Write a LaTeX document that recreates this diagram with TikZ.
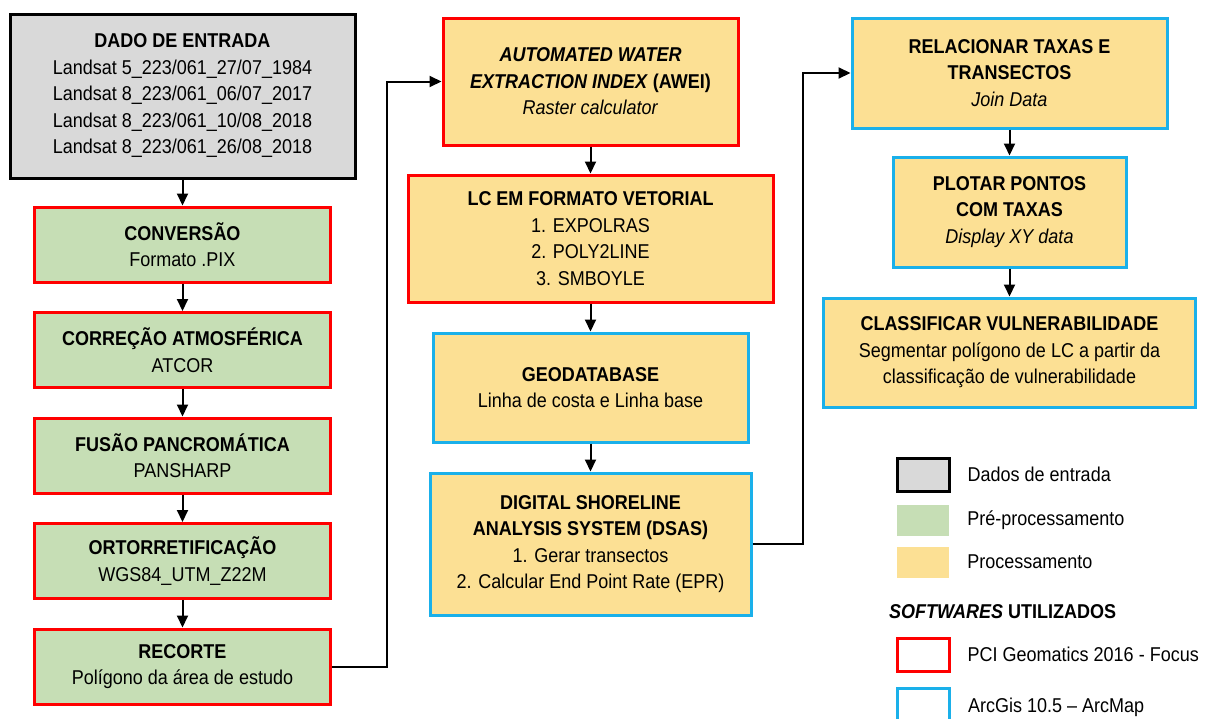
\documentclass[tikz,border=0pt]{standalone}
\usepackage{fontspec}
\setmainfont[FakeStretch=0.9]{Liberation Sans}
\usetikzlibrary{arrows.meta,positioning}
\definecolor{cinza}{HTML}{D9D9D9}
\definecolor{verde}{HTML}{C6DEB5}
\definecolor{amarelo}{HTML}{FCE094}
\definecolor{vermelho}{HTML}{FF0000}
\definecolor{azul}{HTML}{1AB0EA}
\begin{document}
\begin{tikzpicture}[
  x=1pt, y=-1pt,
  box/.style={rectangle, draw, line width=3pt, align=center, inner sep=2pt, font=\fontsize{20}{26.5}\selectfont},
  entrada/.style={box, fill=cinza, draw=black, minimum width=345pt, minimum height=164pt},
  pre/.style={box, fill=verde, draw=vermelho, minimum width=296pt, minimum height=75pt},
  pci/.style={box, fill=amarelo, draw=vermelho},
  arc/.style={box, fill=amarelo, draw=azul},
  amostra/.style={rectangle, minimum width=52pt, minimum height=31pt, inner sep=0pt},
  legtxt/.style={font=\fontsize{20}{22}\selectfont, inner sep=0pt},
  seta/.style={-{Triangle[length=12pt,width=11pt]}, line width=2pt},
  node distance=105.5pt
]
\useasboundingbox (0,0) rectangle (1208,718);

% coluna 1: dados e pre-processamento
\node[entrada] (dado) at (182.5,96) {\textbf{DADO DE ENTRADA}\\Landsat 5\_223/061\_27/07\_1984\\Landsat 8\_223/061\_06/07\_2017\\Landsat 8\_223/061\_10/08\_2018\\Landsat 8\_223/061\_26/08\_2018};
\node[pre, below of=dado, node distance=148.5pt] (conv) {\textbf{CONVERSÃO}\\Formato .PIX};
\node[pre, below of=conv] (corr) {\textbf{CORREÇÃO ATMOSFÉRICA}\\ATCOR};
\node[pre, below of=corr] (fus) {\textbf{FUSÃO PANCROMÁTICA}\\PANSHARP};
\node[pre, below of=fus] (orto) {\textbf{ORTORRETIFICAÇÃO}\\WGS84\_UTM\_Z22M};
\node[pre, below of=orto] (rec) {\textbf{RECORTE}\\Polígono da área de estudo};

% coluna 2: processamento
\node[pci, minimum width=295pt, minimum height=127pt] (awei) at (590.5,81.5) {\textbf{\textit{AUTOMATED WATER}}\\\textbf{\textit{EXTRACTION INDEX}} \textbf{(AWEI)}\\\textit{Raster calculator}};
\node[pci, minimum width=365pt, minimum height=127pt, below of=awei, node distance=157pt] (lc) {\textbf{LC EM FORMATO VETORIAL}\\1. EXPOLRAS\\2. POLY2LINE\\3. SMBOYLE};
\node[arc, minimum width=315pt, minimum height=109pt, below of=lc, node distance=149pt] (geo) {\textbf{GEODATABASE}\\Linha de costa e Linha base};
\node[arc, minimum width=321pt, minimum height=142pt, below of=geo, node distance=156.5pt] (dsas) {\textbf{DIGITAL SHORELINE}\\\textbf{ANALYSIS SYSTEM (DSAS)}\\1. Gerar transectos\\2. Calcular End Point Rate (EPR)};

% coluna 3
\node[arc, minimum width=315pt, minimum height=110pt] (rel) at (1009.5,73) {\textbf{RELACIONAR TAXAS E}\\\textbf{TRANSECTOS}\\\textit{Join Data}};
\node[arc, minimum width=233pt, minimum height=110pt, below of=rel, node distance=139pt] (plot) {\textbf{PLOTAR PONTOS}\\\textbf{COM TAXAS}\\\textit{Display XY data}};
\node[arc, minimum width=372pt, minimum height=109pt, below of=plot, node distance=140.5pt] (class) {\textbf{CLASSIFICAR VULNERABILIDADE}\\Segmentar polígono de LC a partir da\\classificação de vulnerabilidade};

% legenda
\node[amostra, draw=black, line width=3pt, fill=cinza, minimum height=33pt] (lgent) at (923,474.5) {};
\node[amostra, fill=verde] (lgpre) at (923,520) {};
\node[amostra, fill=amarelo] (lgproc) at (923,562) {};
\node[amostra, draw=vermelho, line width=3pt, minimum height=33pt] (lgpci) at (923,654.5) {};
\node[amostra, draw=azul, line width=3pt, minimum height=36pt] (lgarc) at (923,706) {};
\node[legtxt, right=17pt of lgent] (tent) {Dados de entrada};
\node[legtxt, right=18pt of lgpre] (tpre) {Pré-processamento};
\node[legtxt, right=18pt of lgproc] (tproc) {Processamento};
\node[legtxt, anchor=west] (tsoft) at (889,612) {\textbf{\textit{SOFTWARES}} \textbf{UTILIZADOS}};
\node[legtxt, right=17pt of lgpci] (tpci) {PCI Geomatics 2016 - Focus};
\node[legtxt, anchor=west] (tarc) at (968,707) {ArcGis 10.5 -- ArcMap};

% setas
\draw[seta] (dado) -- (conv);
\draw[seta] (conv) -- (corr);
\draw[seta] (corr) -- (fus);
\draw[seta] (fus) -- (orto);
\draw[seta] (orto) -- (rec);
\draw[seta] (rec.east) -- ++(55,0) |- (awei.west);
\draw[seta] (awei) -- (lc);
\draw[seta] (lc) -- (geo);
\draw[seta] (geo) -- (dsas);
\draw[seta] (dsas.east) -- ++(50,0) |- (rel.west);
\draw[seta] (rel) -- (plot);
\draw[seta] (plot) -- (class);
\end{tikzpicture}
\end{document}
